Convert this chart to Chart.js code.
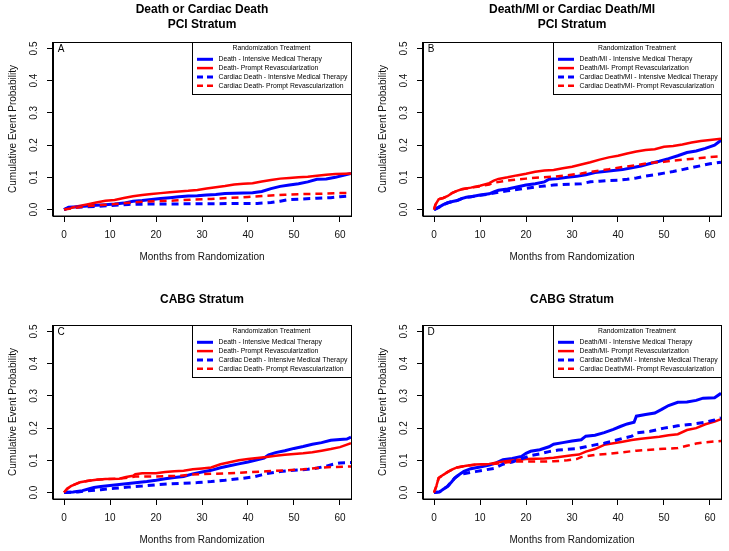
<!DOCTYPE html>
<html><head><meta charset="utf-8">
<script src="https://cdn.jsdelivr.net/npm/chart.js@4"></script>
<style>
html,body{margin:0;padding:0;background:#fff;overflow:hidden;}
#wrap{position:relative;width:729px;height:551px;overflow:hidden;background:#fff;}
.panel{position:absolute;width:365px;height:275px;}
canvas{display:block;}
</style></head><body>
<div id="wrap">
<div class="panel" style="left:0;top:0"><canvas id="cA" width="365" height="275"></canvas></div>
<div class="panel" style="left:370px;top:0"><canvas id="cB" width="365" height="275"></canvas></div>
<div class="panel" style="left:0;top:283px"><canvas id="cC" width="365" height="275"></canvas></div>
<div class="panel" style="left:370px;top:283px"><canvas id="cD" width="365" height="275"></canvas></div>
</div>
<script>
// ---- tick labels ----
const xTicks = [0, 10, 20, 30, 40, 50, 60];
const yTicks = [0, 0.1, 0.2, 0.3, 0.4, 0.5];

// ---- titles / labels ----
const titleA = ['Death or Cardiac Death', 'PCI Stratum'];
const titleB = ['Death/MI or Cardiac Death/MI', 'PCI Stratum'];
const titleC = ['CABG Stratum'];
const titleD = ['CABG Stratum'];
const labelsDeath = ['Death - Intensive Medical Therapy', 'Death- Prompt Revascularization',
  'Cardiac Death - Intensive Medical Therapy', 'Cardiac Death- Prompt Revascularization'];
const labelsDeathMI = ['Death/MI - Intensive Medical Therapy', 'Death/MI- Prompt Revascularization',
  'Cardiac Death/MI - Intensive Medical Therapy', 'Cardiac Death/MI- Prompt Revascularization'];

// ---- Panel A: [month, cumulative probability] ----
const A_deathIMT = [[0,0],[1,0.007],[3,0.009],[5,0.011],[7,0.013],[9,0.015],[11,0.017],[13,0.02],[15,0.026],[17,0.028],[19,0.031],[21,0.034],[23,0.037],[25,0.04],[27,0.042],[29,0.043],[31,0.045],[33,0.047],[35,0.05],[39,0.051],[41,0.052],[43,0.056],[45,0.065],[47,0.072],[49,0.076],[51,0.08],[53,0.086],[55,0.094],[57,0.095],[59,0.1],[61,0.107],[62.4,0.112]];
const A_deathPR = [[0,0],[1,0.003],[3,0.01],[5,0.016],[7,0.022],[9,0.027],[11,0.03],[13,0.036],[15,0.041],[17,0.045],[19,0.048],[21,0.051],[23,0.054],[25,0.056],[27,0.058],[29,0.061],[31,0.065],[33,0.069],[35,0.073],[37,0.078],[39,0.08],[41,0.082],[43,0.087],[45,0.092],[47,0.096],[49,0.098],[51,0.1],[53,0.102],[55,0.105],[57,0.108],[59,0.11],[61,0.111],[62.4,0.112]];
const A_cardIMT = [[0,0],[1,0.006],[4,0.008],[7,0.01],[10,0.012],[12,0.014],[14,0.016],[18,0.017],[30,0.018],[42,0.019],[45,0.022],[47,0.026],[49,0.031],[52,0.033],[55,0.035],[58,0.037],[60,0.04],[62.4,0.042]];
const A_cardPR = [[0,0],[2,0.004],[4,0.009],[6,0.012],[8,0.014],[11,0.017],[14,0.021],[17,0.024],[20,0.026],[24,0.028],[28,0.031],[32,0.033],[36,0.036],[40,0.039],[44,0.043],[48,0.046],[52,0.048],[56,0.049],[60,0.051],[62.4,0.052]];

// ---- Panel B ----
const B_deathIMT = [[0,0],[1,0.007],[2,0.015],[3,0.021],[4,0.025],[5,0.028],[6,0.034],[7,0.038],[8,0.04],[10,0.045],[12,0.049],[13,0.055],[14,0.06],[16,0.064],[18,0.07],[20,0.076],[22,0.08],[24,0.086],[25,0.094],[27,0.096],[29,0.1],[31,0.103],[33,0.108],[35,0.115],[37,0.118],[39,0.121],[41,0.124],[43,0.13],[45,0.135],[47,0.143],[49,0.15],[51,0.158],[53,0.167],[55,0.177],[57,0.182],[59,0.19],[61,0.2],[62.4,0.215]];
const B_deathPR = [[0,0],[0.3,0.015],[1,0.032],[2,0.036],[3,0.042],[4,0.052],[5,0.058],[6,0.063],[8,0.068],[10,0.074],[12,0.082],[13,0.09],[14,0.095],[16,0.1],[18,0.106],[20,0.111],[22,0.117],[24,0.121],[26,0.123],[28,0.128],[30,0.133],[32,0.14],[34,0.147],[36,0.155],[38,0.162],[40,0.167],[42,0.174],[44,0.18],[46,0.185],[48,0.187],[50,0.195],[52,0.197],[54,0.202],[56,0.208],[58,0.213],[60,0.216],[62.4,0.22]];
const B_cardIMT = [[0,0],[1,0.007],[2,0.015],[3,0.021],[4,0.025],[5,0.028],[6,0.034],[7,0.038],[8,0.04],[10,0.044],[12,0.048],[14,0.054],[16,0.058],[18,0.062],[20,0.066],[22,0.07],[24,0.073],[26,0.076],[28,0.078],[30,0.079],[32,0.08],[34,0.086],[36,0.088],[38,0.09],[40,0.091],[42,0.094],[44,0.098],[46,0.104],[48,0.108],[50,0.113],[52,0.118],[54,0.124],[56,0.13],[58,0.136],[60,0.142],[62.4,0.147]];
const B_cardPR = [[0,0],[0.3,0.015],[1,0.032],[2,0.036],[3,0.042],[4,0.052],[5,0.058],[6,0.063],[8,0.068],[10,0.072],[12,0.078],[13,0.083],[15,0.088],[17,0.092],[20,0.096],[23,0.1],[26,0.102],[29,0.106],[32,0.112],[35,0.119],[38,0.125],[41,0.132],[44,0.138],[47,0.145],[50,0.148],[52,0.152],[55,0.156],[58,0.16],[60,0.163],[62.4,0.165]];

// ---- Panel C ----
const C_deathIMT = [[0,0],[2,0.002],[4,0.006],[5.5,0.012],[6.5,0.016],[8,0.019],[10,0.022],[12,0.025],[14,0.028],[16,0.031],[18,0.034],[20,0.038],[22,0.043],[24,0.047],[26,0.05],[28,0.058],[30,0.064],[32,0.069],[34,0.077],[36,0.083],[38,0.089],[40,0.095],[42,0.102],[43.5,0.107],[44.5,0.117],[46,0.124],[48,0.13],[50,0.137],[52,0.143],[54,0.15],[56,0.155],[58,0.162],[60,0.165],[61.5,0.166],[62.4,0.172]];
const C_deathPR = [[0,0],[0.7,0.012],[1.5,0.02],[2.5,0.026],[3.5,0.032],[5,0.036],[7,0.04],[9,0.042],[12,0.043],[13.5,0.048],[15,0.052],[15.5,0.057],[17,0.06],[20,0.06],[22,0.064],[24,0.066],[26,0.068],[28,0.072],[30,0.075],[32,0.078],[34,0.088],[36,0.094],[38,0.1],[40,0.104],[42,0.107],[44,0.11],[46,0.114],[48,0.117],[50,0.12],[52,0.122],[54,0.125],[56,0.13],[58,0.135],[60,0.141],[62.4,0.153]];
const C_cardIMT = [[0,0],[3,0.002],[5,0.005],[8,0.009],[11,0.013],[14,0.017],[17,0.02],[20,0.024],[23,0.027],[26,0.029],[29,0.031],[32,0.034],[35,0.038],[38,0.043],[41,0.048],[43,0.055],[44.5,0.06],[47,0.065],[50,0.069],[53,0.072],[55,0.076],[57,0.082],[58.5,0.088],[60,0.092],[62.4,0.093]];
const C_cardPR = [[0,0],[0.7,0.012],[1.5,0.02],[2.5,0.026],[3.5,0.032],[5,0.036],[7,0.04],[9,0.042],[12,0.043],[14,0.046],[15.5,0.05],[20,0.05],[25,0.052],[28,0.056],[32,0.058],[36,0.06],[40,0.063],[44,0.066],[48,0.069],[52,0.072],[55,0.076],[58,0.079],[62.4,0.081]];

// ---- Panel D ----
const D_deathIMT = [[0,0],[1.2,0.002],[2,0.01],[3,0.02],[3.8,0.033],[4.5,0.045],[5.5,0.056],[6.5,0.066],[8,0.074],[10,0.079],[12,0.085],[13.5,0.092],[15,0.102],[17,0.106],[19,0.112],[20,0.122],[21,0.128],[23,0.133],[25,0.142],[26,0.15],[28,0.155],[30,0.16],[32,0.164],[33,0.175],[35,0.178],[37,0.186],[39,0.196],[40.5,0.205],[42,0.213],[43.5,0.218],[44,0.237],[46,0.242],[48,0.247],[49.5,0.258],[51,0.27],[53,0.28],[55,0.281],[57,0.286],[58.5,0.293],[61,0.294],[62.4,0.308]];
const D_deathPR = [[0,0],[0.5,0.02],[1,0.045],[2,0.055],[3,0.064],[4,0.072],[5,0.078],[7,0.083],[9,0.087],[12,0.089],[14,0.094],[16,0.098],[18,0.101],[20,0.104],[22,0.105],[24,0.106],[26,0.108],[28,0.112],[30,0.116],[31.5,0.118],[33,0.127],[35,0.135],[37,0.148],[39,0.153],[41,0.158],[43,0.163],[45,0.167],[47,0.17],[49,0.173],[51,0.178],[53,0.181],[55,0.194],[57,0.2],[59,0.212],[61,0.22],[62.4,0.228]];
const D_cardIMT = [[0,0],[1.2,0.002],[2,0.01],[3,0.02],[3.8,0.033],[4.5,0.045],[5.5,0.056],[7,0.06],[9,0.065],[11,0.07],[13,0.075],[15,0.088],[17,0.095],[19,0.105],[21,0.115],[23,0.12],[25,0.127],[27,0.132],[29,0.134],[31,0.136],[33,0.142],[35,0.148],[37,0.153],[39,0.16],[41,0.168],[43,0.175],[44,0.185],[47,0.19],[50,0.2],[53,0.207],[56,0.212],[59,0.218],[61,0.225],[62.4,0.232]];
const D_cardPR = [[0,0],[0.5,0.02],[1,0.045],[2,0.055],[3,0.064],[4,0.072],[5,0.078],[7,0.083],[9,0.086],[12,0.088],[14,0.09],[16,0.094],[18,0.096],[22,0.096],[26,0.097],[29,0.1],[31,0.104],[32,0.11],[35,0.117],[38,0.12],[41,0.125],[44,0.13],[47,0.133],[50,0.136],[53,0.138],[55,0.145],[57,0.152],[59,0.156],[62.4,0.16]];

const FONT = '"Liberation Sans", Arial, Helvetica, sans-serif';
const BLUE = '#0000FF', RED = '#FF0000';

const boxPlugin = {
  id: 'boxPlugin',
  afterDraw(chart, args, opts) {
    const {ctx, chartArea: ca} = chart;
    ctx.save();
    ctx.strokeStyle = '#000'; ctx.lineWidth = 1; ctx.setLineDash([]);
    ctx.strokeRect(Math.round(ca.left) - 0.5, Math.round(ca.top) + 0.5,
      Math.round(ca.right - ca.left) + 1, Math.round(ca.bottom - ca.top) - 0.5);
    ctx.fillStyle = '#000';
    ctx.font = '10px ' + FONT;
    ctx.textAlign = 'center'; ctx.textBaseline = 'middle';
    ctx.fillText(opts.letter, ca.left + 8, ca.top + 7);
    const ds = chart.data.datasets;
    ctx.font = '6.8px ' + FONT;
    const tw = Math.max(...ds.map(d => ctx.measureText(d.label).width));
    const w = Math.round(26.5 + tw + 3.5);
    const h = 52;
    const x0 = Math.round(ca.right) - w, y0 = Math.round(ca.top);
    ctx.fillStyle = '#fff';
    ctx.fillRect(x0, y0, w, h);
    ctx.strokeStyle = '#000';
    ctx.strokeRect(x0 + 0.5, y0 + 0.5, w, h);
    ctx.fillStyle = '#000';
    ctx.textAlign = 'center';
    ctx.fillText(opts.legendTitle, x0 + w / 2, y0 + 6);
    ds.forEach((d, i) => {
      const y = y0 + 17.3 + i * 8.8;
      ctx.beginPath();
      ctx.setLineDash(d.borderDash && d.borderDash.length ? [6, 4] : []);
      ctx.strokeStyle = d.borderColor; ctx.lineWidth = d.borderWidth;
      ctx.moveTo(x0 + 5, y); ctx.lineTo(x0 + 21, y); ctx.stroke();
      ctx.setLineDash([]);
      ctx.textAlign = 'left'; ctx.fillStyle = '#000';
      ctx.fillText(d.label, x0 + 26.5, y);
    });
    ctx.restore();
  }
};

function toXY(arr) { return arr.map(p => ({x: p[0], y: p[1]})); }

function makeChart(id, title, letter, labels, series) {
  const styles = [
    {color: BLUE, width: 3, dash: []},
    {color: RED, width: 2.5, dash: []},
    {color: BLUE, width: 3, dash: [7, 5]},
    {color: RED, width: 2.5, dash: [7, 5]}
  ];
  const oneLine = title.length === 1;
  return new Chart(document.getElementById(id), {
    type: 'line',
    data: {
      datasets: series.map((s, i) => ({
        label: labels[i],
        data: toXY(s),
        borderColor: styles[i].color,
        borderWidth: styles[i].width,
        borderDash: styles[i].dash,
        tension: 0,
        pointRadius: 0,
        fill: false,
        clip: 0,
        order: 3 - i
      }))
    },
    options: {
      responsive: false,
      animation: false,
      events: [],
      layout: {padding: {left: 0, right: 14, top: 0, bottom: 0}},
      plugins: {
        legend: {display: false},
        tooltip: {enabled: false},
        title: {
          display: true,
          text: title,
          fullSize: false,
          color: '#000',
          font: {family: FONT, size: 12, weight: 'bold', lineHeight: 1.2},
          padding: oneLine ? {top: 9.8, bottom: 17.8} : {top: 2.8, bottom: 10.4}
        },
        boxPlugin: {letter: letter, legendTitle: 'Randomization Treatment'}
      },
      scales: {
        x: {
          type: 'linear',
          min: -2.4, max: 62.4,
          afterBuildTicks: s => { s.ticks = xTicks.map(v => ({value: v})); },
          afterFit: s => { s.height = 59; },
          ticks: {color: '#111', font: {family: FONT, size: 10}, padding: 7, maxRotation: 0, autoSkip: false},
          grid: {display: true, drawOnChartArea: false, drawTicks: true, tickLength: 6, color: '#000', lineWidth: 1},
          border: {display: true, color: '#000', width: 1},
          title: {display: true, text: 'Months from Randomization', color: '#111',
            font: {family: FONT, size: 10, lineHeight: 1.2}, padding: {top: 0, bottom: 11.3}}
        },
        y: {
          type: 'linear',
          min: -0.02, max: 0.52,
          afterBuildTicks: s => { s.ticks = yTicks.map(v => ({value: v})); },
          afterFit: s => { s.width = 53; },
          ticks: {color: '#111', font: {family: FONT, size: 10}, padding: 5.75,
            minRotation: 90, maxRotation: 90, crossAlign: 'center', autoSkip: false,
            callback: v => Number(v).toFixed(1)},
          grid: {display: true, drawOnChartArea: false, drawTicks: true, tickLength: 6, color: '#000', lineWidth: 1},
          border: {display: true, color: '#000', width: 1},
          title: {display: true, text: 'Cumulative Event Probability', color: '#111',
            font: {family: FONT, size: 10, lineHeight: 1.2}, padding: {top: 7, bottom: 0}}
        }
      }
    },
    plugins: [boxPlugin]
  });
}

makeChart('cA', titleA, 'A', labelsDeath, [A_deathIMT, A_deathPR, A_cardIMT, A_cardPR]);
makeChart('cB', titleB, 'B', labelsDeathMI, [B_deathIMT, B_deathPR, B_cardIMT, B_cardPR]);
makeChart('cC', titleC, 'C', labelsDeath, [C_deathIMT, C_deathPR, C_cardIMT, C_cardPR]);
makeChart('cD', titleD, 'D', labelsDeathMI, [D_deathIMT, D_deathPR, D_cardIMT, D_cardPR]);
</script>
</body></html>
